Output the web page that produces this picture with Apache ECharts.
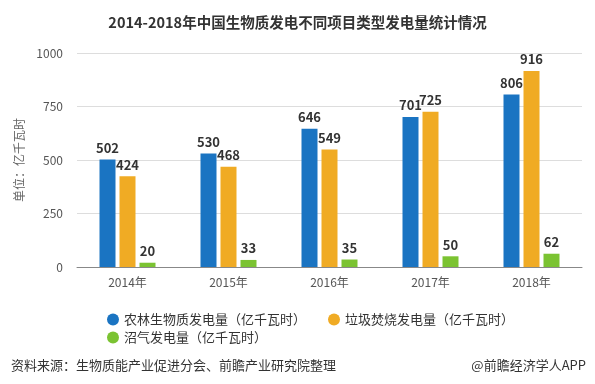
<!DOCTYPE html>
<html><head><meta charset="utf-8">
<script src="https://cdn.jsdelivr.net/npm/echarts@6/dist/echarts.min.js"></script>
<style>html,body{margin:0;padding:0;background:#fff}#c{width:595px;height:384px}</style>
</head><body><div id="c"></div>
<script>
var categories = ['2014年','2015年','2016年','2017年','2018年'];
var seriesNames = ['农林生物质发电量（亿千瓦时）','垃圾焚烧发电量（亿千瓦时）','沼气发电量（亿千瓦时）'];
var agriForest = [502, 530, 646, 701, 806];
var wasteBurn = [424, 468, 549, 725, 916];
var biogas = [20, 33, 35, 50, 62];
var yTicks = [0, 250, 500, 750, 1000];
var colors = ['#1a74c2', '#f0ab24', '#7bc332'];
var F = '"Microsoft YaHei","Noto Sans CJK SC",sans-serif';
var chart = echarts.init(document.getElementById('c'));
function mk(name, data, color) {
  return {name: name, type: 'bar', data: data, barWidth: 16, barGap: '25%',
    itemStyle: {color: color},
    label: {show: true, position: 'top', color: '#333', fontWeight: 'bold', fontSize: 13, fontFamily: F, distance: 5}};
}
var legendText = {fontSize: 13, color: '#333', fontFamily: F};
chart.setOption({
  animation: false,
  textStyle: {fontFamily: F},
  title: [{text: '2014-2018年中国生物质发电不同项目类型发电量统计情况', left: 'center', top: 10,
    textStyle: {fontSize: 14.5, fontWeight: 'bold', color: '#333', fontFamily: F}},
    {text: '资料来源：生物质能产业促进分会、前瞻产业研究院整理', left: 6, top: 354,
    textStyle: {fontSize: 13, fontWeight: 'normal', color: '#333', fontFamily: F}},
    {text: '@前瞻经济学人APP', right: 4, top: 354,
    textStyle: {fontSize: 13, fontWeight: 'normal', color: '#333', fontFamily: F}}],
  legend: [{left: 102, top: 308, itemWidth: 12, itemHeight: 12, icon: 'circle', itemGap: 22,
    textStyle: legendText, data: [seriesNames[0], seriesNames[1]]},
    {left: 102, top: 326, itemWidth: 12, itemHeight: 12, icon: 'circle',
    textStyle: legendText, data: [seriesNames[2]]}],
  grid: {left: 77, right: 13, top: 53, bottom: 117},
  xAxis: {type: 'category', data: categories,
    axisLine: {lineStyle: {color: '#888'}},
    axisTick: {alignWithLabel: true, lineStyle: {color: '#888'}},
    axisLabel: {color: '#555', fontSize: 12, margin: 9}},
  yAxis: {type: 'value', min: yTicks[0], max: yTicks[yTicks.length-1], interval: 250,
    name: '单位：亿千瓦时', nameLocation: 'middle', nameGap: 50, nameRotate: 90,
    nameTextStyle: {color: '#666', fontSize: 12},
    axisLine: {show: false}, axisTick: {show: false},
    axisLabel: {color: '#555', fontSize: 12, margin: 14, formatter: function(v){return String(v);}},
    splitLine: {lineStyle: {color: '#ddd'}}},
  series: [mk(seriesNames[0], agriForest, colors[0]), mk(seriesNames[1], wasteBurn, colors[1]), mk(seriesNames[2], biogas, colors[2])]
});
</script></body></html>
